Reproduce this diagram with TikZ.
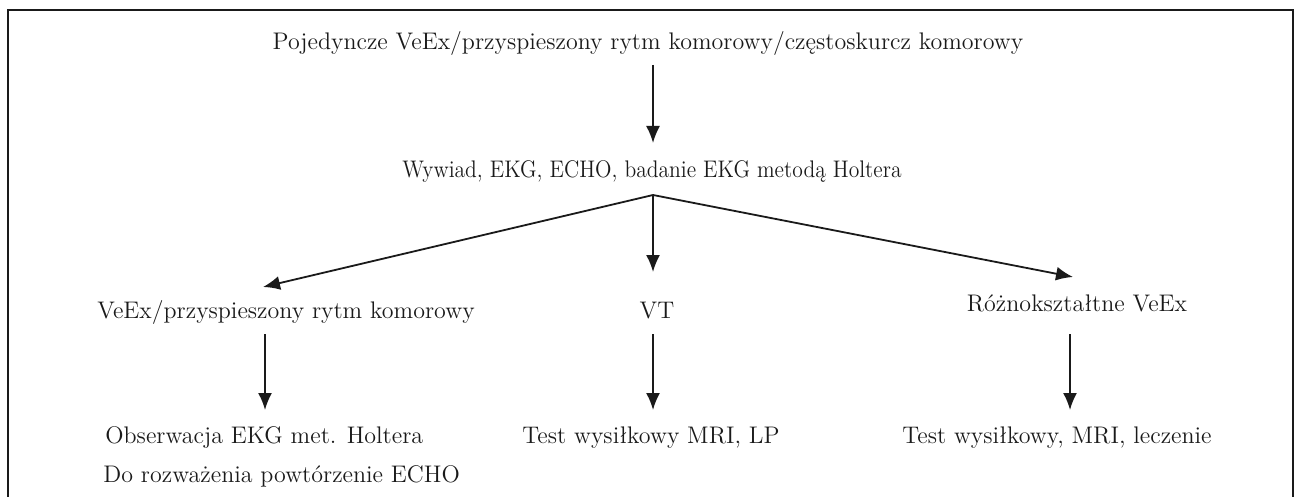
\documentclass[tikz,border=0pt]{standalone}
\usepackage{fontspec}
\usepackage{graphicx}
\usetikzlibrary{arrows.meta,calc,positioning}
\definecolor{inkblack}{HTML}{1A1A1A}
\newcommand{\tx}{\fontsize{12}{14}\selectfont}

\begin{document}
\begin{tikzpicture}[x=0.5pt, y=-0.5pt,
  lbl/.style={font=\tx, text=inkblack, inner sep=0pt, anchor=base},
  arr/.style={draw=inkblack, line width=0.9pt, -{Latex[length=8.5pt,width=7pt]}},
  frame/.style={draw=inkblack, line width=0.8pt}]

\useasboundingbox (0,0) rectangle (1299,497);
% frame, open at the bottom
\draw[frame] (8,497) -- (8,10) -- (1293,10) -- (1293,497);

% columns the arrows run down
\coordinate (colL) at (265,0);
\coordinate (colR) at (1070,0);

% ---- first finding and the work-up
\node[lbl] (start) at (648,50) {Pojedyncze VeEx/przyspieszony rytm komorowy/częstoskurcz komorowy};
\node[lbl] (exam) at (652,177) {\scalebox{0.9}[1]{Wywiad, EKG, ECHO, badanie EKG metodą Holtera}};
\coordinate (fork) at (653,195);
\draw[arr] ($(start.base -| fork)+(0,15)$) -- ($(exam.base -| fork)+(0,-34)$);

% ---- three outcomes
\node[lbl] (vex) at (286,318) {VeEx/przyspieszony rytm komorowy};
\node[lbl] (vt) at (657,318) {VT};
\node[lbl] (poly) at (1077,311) {Różnokształtne VeEx};
\draw[arr] (fork) -- ($(vex.base -| colL)+(-2,-31)$);
\draw[arr] (fork) -- ($(vt.base -| fork)+(0,-46)$);
\draw[arr] (fork) -- ($(poly.base -| colR)+(3,-34)$);

% ---- what to do next
\node[lbl, anchor=base west] (obs) at (105,443) {Obserwacja EKG met. Holtera};
\node[lbl, anchor=base west] (echo) at (103,482) {Do rozważenia powtórzenie ECHO};
\node[lbl] (mri) at (651,443) {Test wysiłkowy MRI, LP};
\node[lbl] (mritx) at (1057,443) {Test wysiłkowy, MRI, leczenie};
\draw[arr] ($(vex.base -| colL)+(0,16)$) -- ($(obs.base -| colL)+(0,-33)$);
\draw[arr] ($(vt.base -| fork)+(0,16)$) -- ($(mri.base -| fork)+(0,-33)$);
\draw[arr] ($(poly.base -| colR)+(0,23)$) -- ($(mritx.base -| colR)+(0,-33)$);
\end{tikzpicture}
\end{document}
